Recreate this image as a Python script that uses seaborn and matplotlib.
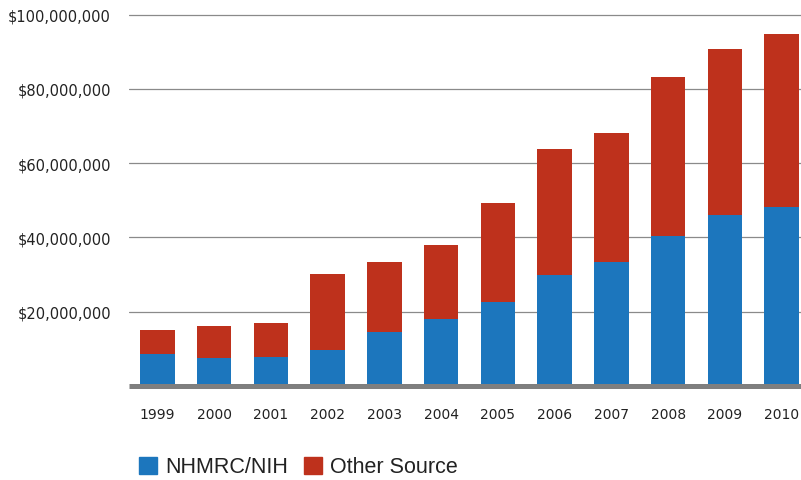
import pandas as pd
import numpy as np
import matplotlib
matplotlib.use("Agg")
import matplotlib.pyplot as plt
from matplotlib.patches import Patch
from matplotlib.ticker import FuncFormatter
import seaborn as sns

years = ["1999", "2000", "2001", "2002", "2003", "2004",
         "2005", "2006", "2007", "2008", "2009", "2010"]
# funding in dollars
nhmrc = [8.5e6, 7.4e6, 7.7e6, 9.5e6, 14.4e6, 18.0e6,
         22.5e6, 29.7e6, 33.4e6, 40.4e6, 46.0e6, 48.2e6]
other = [6.5e6, 8.7e6, 9.2e6, 20.6e6, 19.0e6, 19.8e6,
         26.8e6, 34.0e6, 34.7e6, 42.8e6, 44.6e6, 46.5e6]
yticks = [20e6, 40e6, 60e6, 80e6, 100e6]

blue = "#1c76bd"
red = "#be311c"

df = pd.DataFrame({"year": years, "nhmrc": nhmrc, "other": other})
df["total"] = df["nhmrc"] + df["other"]

sns.set_style("white")
fig = plt.figure(figsize=(8.01, 4.81), dpi=100)
ax = fig.add_axes([129/801, 1 - 386.75/481, 1 - 129/801, (386.75 - 8.1)/481])

# stacked: draw totals first, then blue part on top
sns.barplot(data=df, x="year", y="total", color=red, width=0.61,
            saturation=1, ax=ax, edgecolor="none")
sns.barplot(data=df, x="year", y="nhmrc", color=blue, width=0.61,
            saturation=1, ax=ax, edgecolor="none")

ax.set_xlim(-0.5, 11.34)
ax.set_ylim(0, 102e6)
ax.set_yticks(yticks)
ax.yaxis.set_major_formatter(FuncFormatter(lambda v, p: "${:,.0f}".format(v)))
ax.set_xlabel("")
ax.set_ylabel("")
ax.set_axisbelow(True)
ax.grid(axis="y", color="#8a8a8a", linewidth=0.9)
ax.grid(axis="x", visible=False)

for s in ["top", "right", "left"]:
    ax.spines[s].set_visible(False)
ax.spines["bottom"].set_color("#7f7f7f")
ax.spines["bottom"].set_linewidth(3.6)
ax.spines["bottom"].set_capstyle("butt")
ax.spines["bottom"].set_zorder(3)

ax.tick_params(axis="y", length=0, pad=13, labelsize=10.5, labelcolor="#222222")
ax.tick_params(axis="x", length=0, pad=15, labelsize=10, labelcolor="#222222")

handles = [Patch(color=blue, label="NHMRC/NIH"), Patch(color=red, label="Other Source")]
fig.legend(handles=handles, loc="center", bbox_to_anchor=(298.5/801, 1 - 468/481),
           ncol=2, frameon=False, prop={"family": "Liberation Sans", "size": 15.5},
           handlelength=0.84, handleheight=0.84, handletextpad=0.38,
           columnspacing=0.7, labelcolor="#222222")

fig.savefig("out.png", dpi=100)
